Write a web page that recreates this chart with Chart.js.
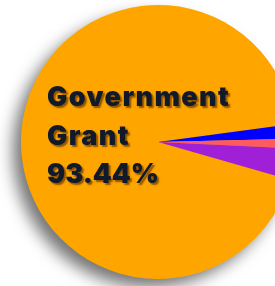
<!DOCTYPE html>
<html>
<head>
<meta charset="utf-8">
<script src="https://cdn.jsdelivr.net/npm/chart.js@4.4.1/dist/chart.umd.min.js"></script>
<style>
    html, body { margin: 0; padding: 0; background: #fff; overflow: hidden; }
    #wrap { position: relative; width: 316px; height: 286px; }
</style>
</head>
<body>
<div id="wrap"><canvas id="fundChart"></canvas></div>
<script>
// --- DATOS ---
const categorias = ['Government Grant', 'Donations', 'Sponsorship', 'Other Income'];
const porcentajes = [93.44, 1.75, 1.12, 3.69];
const colores = ['#FFA500', '#0000FF', '#FF5A5F', '#A020D8'];
const etiquetaPrincipal = ['Government', 'Grant', '93.44%'];

// sombra del pastel (abajo a la izquierda)
const sombraPie = {
    id: 'sombraPie',
    beforeDatasetsDraw(chart) {
        const arc = chart.getDatasetMeta(0).data[0];
        if (!arc) return;
        const ctx = chart.ctx;
        ctx.save();
        ctx.shadowColor = 'rgba(0,0,0,0.55)';
        ctx.shadowBlur = 16;
        ctx.shadowOffsetX = -9;
        ctx.shadowOffsetY = 9;
        ctx.fillStyle = '#FFA500';
        ctx.beginPath();
        ctx.arc(arc.x, arc.y, arc.outerRadius - 1, 0, Math.PI * 2);
        ctx.fill();
        ctx.restore();
    }
};

// texto grande sobre la porción principal
const etiquetaGrande = {
    id: 'etiquetaGrande',
    afterDatasetsDraw(chart) {
        const arc = chart.getDatasetMeta(0).data[0];
        if (!arc) return;
        const ctx = chart.ctx;
        const x0 = arc.x - 111;
        const y0 = arc.y - 36;
        const espaciado = ['1.4px', '1.4px', '0px'];
        ctx.save();
        ctx.font = '900 27px Inter, "Open Sans", sans-serif';
        ctx.textAlign = 'left';
        ctx.textBaseline = 'alphabetic';
        ctx.fillStyle = '#111a2b';
        ctx.shadowColor = 'rgba(120,70,0,0.85)';
        ctx.shadowBlur = 1.5;
        ctx.shadowOffsetX = 2;
        ctx.shadowOffsetY = 2;
        etiquetaPrincipal.forEach((t, i) => {
            ctx.letterSpacing = espaciado[i];
            ctx.fillText(t, x0, y0 + i * 38.5);
        });
        ctx.restore();
    }
};

function inicializarGrafica() {
    const ctx = document.getElementById('fundChart').getContext('2d');
    new Chart(ctx, {
        type: 'pie',
        data: {
            labels: categorias,
            datasets: [{
                data: porcentajes,
                backgroundColor: colores,
                borderWidth: 0
            }]
        },
        options: {
            responsive: true,
            maintainAspectRatio: false,
            animation: false,
            rotation: 106,
            layout: { padding: { top: 5, bottom: 7, left: 0, right: 0 } },
            plugins: {
                legend: { display: false },
                tooltip: { enabled: false }
            }
        },
        plugins: [sombraPie, etiquetaGrande]
    });
}

inicializarGrafica();
</script>
</body>
</html>
